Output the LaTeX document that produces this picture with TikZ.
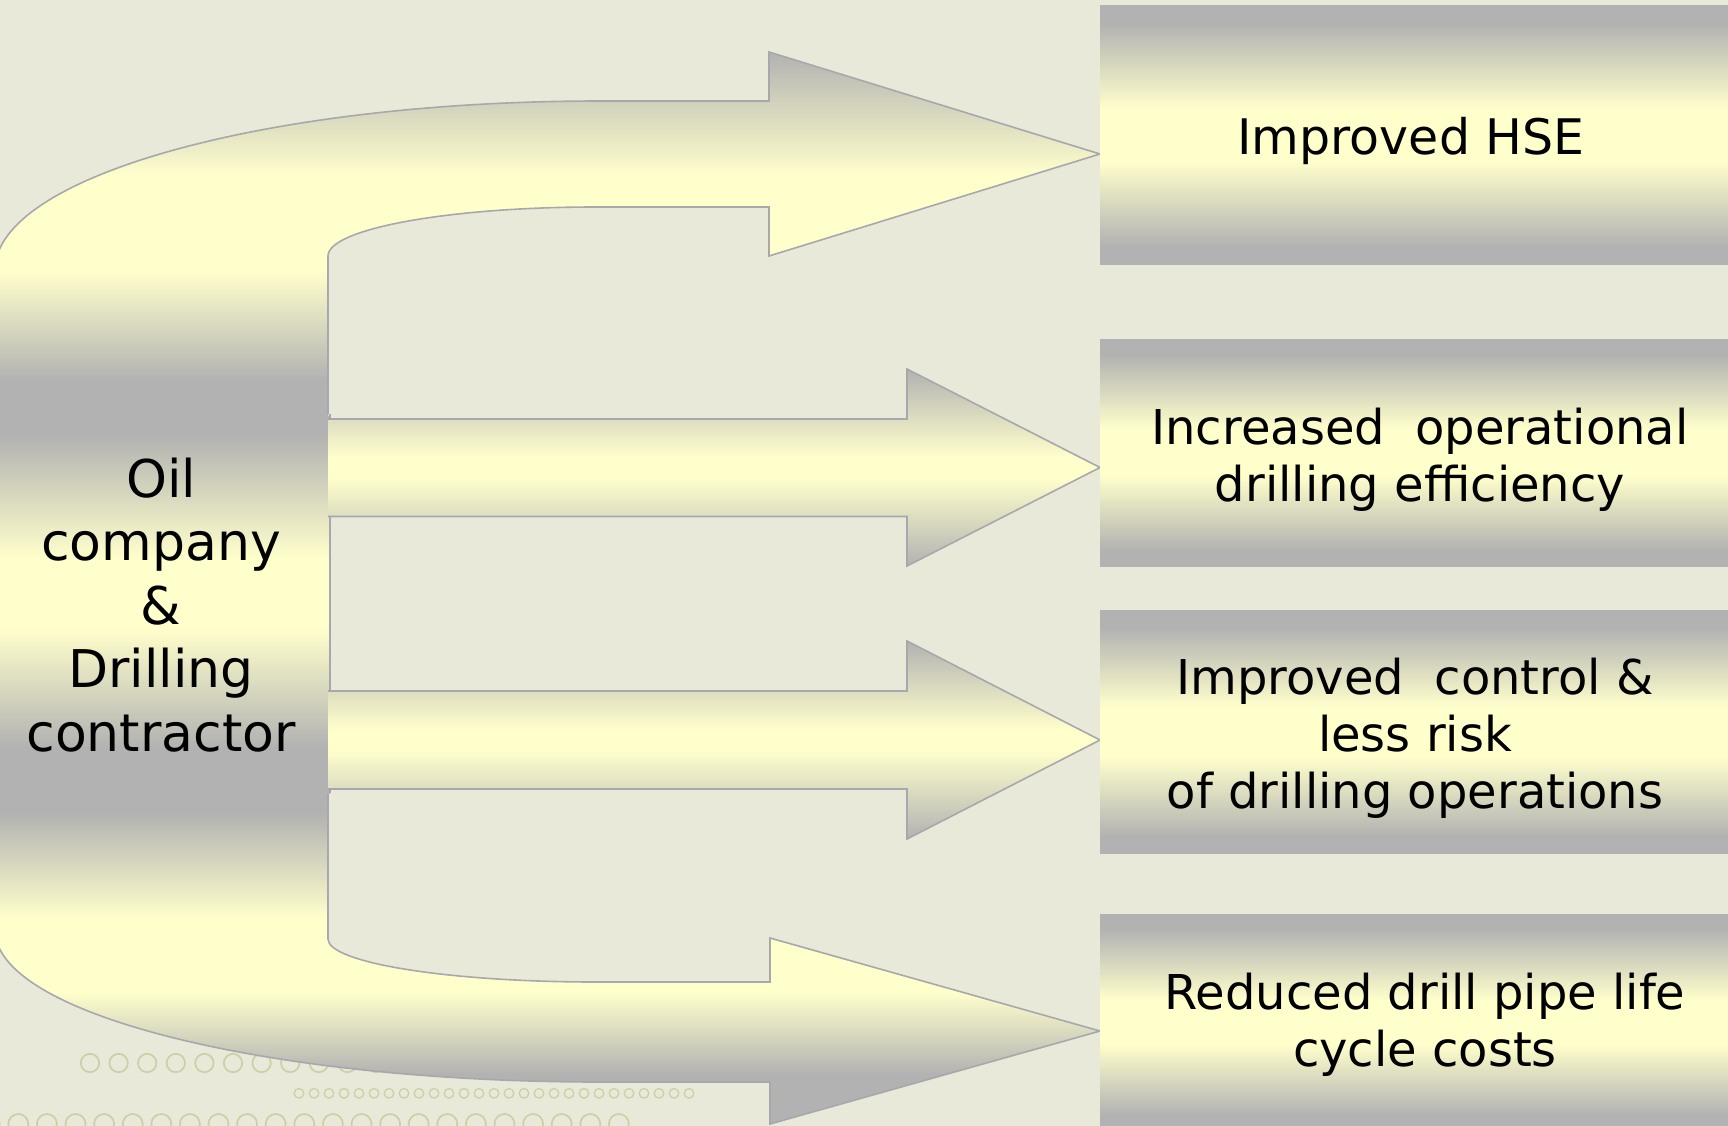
\documentclass[tikz,border=0pt]{standalone}
\usepackage{fontspec}
\setmainfont{DejaVu Sans}
\definecolor{bgc}{RGB}{232,233,216}
\definecolor{grayc}{RGB}{178,178,178}
\definecolor{yelc}{RGB}{255,255,204}
\definecolor{edgec}{RGB}{168,168,172}
\definecolor{dotc}{RGB}{204,208,166}
\pgfdeclareverticalshading{boxband}{100bp}{color(0bp)=(grayc); color(28.5bp)=(grayc); color(45bp)=(yelc); color(55bp)=(yelc); color(71.5bp)=(grayc); color(100bp)=(grayc)}
\pgfdeclareverticalshading{arrband}{100bp}{color(0bp)=(grayc); color(25bp)=(grayc); color(47.5bp)=(yelc); color(52.5bp)=(yelc); color(75bp)=(grayc); color(100bp)=(grayc)}
\pgfdeclareverticalshading{topband}{100bp}{color(0bp)=(grayc); color(30bp)=(grayc); color(45bp)=(yelc); color(58bp)=(yelc); color(75bp)=(grayc); color(100bp)=(grayc)}
\pgfdeclareverticalshading{midband}{100bp}{color(0bp)=(grayc); color(31bp)=(grayc); color(47bp)=(yelc); color(56bp)=(yelc); color(72.5bp)=(grayc); color(100bp)=(grayc)}
\pgfdeclareverticalshading{botband}{100bp}{color(0bp)=(grayc); color(32.5bp)=(grayc); color(45bp)=(yelc); color(56bp)=(yelc); color(72bp)=(grayc); color(100bp)=(grayc)}
\begin{document}
\begin{tikzpicture}[x=1pt,y=-1pt,
  edge/.style={draw=edgec,line width=1.6pt},
  boxnode/.style={rectangle,inner sep=0pt,shade,shading=boxband,minimum width=650pt},
  rtext/.style={anchor=base,align=center,font=\fontsize{48}{57}\selectfont,inner sep=0pt},
  ltext/.style={anchor=base,align=center,font=\fontsize{52}{63.5}\selectfont,inner sep=0pt},
  dotring/.style={draw=dotc,line width=1.7pt}]
\useasboundingbox (0,0) rectangle (1728,1126);
\fill[bgc] (0,0) rectangle (1728,1126);
\clip (0,0) rectangle (1728,1126);
% decorative rings
\foreach \i in {0,...,13} \draw[dotring] (90+28.6*\i,1063) circle[radius=9.2];
\foreach \i in {0,...,26} \draw[dotring,line width=1.3pt] (299+15*\i,1093.3) circle[radius=4.8];
\foreach \i in {0,...,22} \draw[dotring] (-10.3+28.6*\i,1124) circle[radius=10];
% bottom bent arrow
\shade[shading=botband] (-5,793) -- (-5,930) arc[start angle=180,end angle=90,x radius=605,y radius=152] -- (770,1082) -- (770,1124) -- (1100,1031) -- (770,938) -- (770,982) -- (596,982) arc[start angle=90,end angle=180,x radius=268,y radius=43] -- (328,793) -- cycle;
\draw[edge] (328,792) -- (328,939) arc[start angle=180,end angle=90,x radius=268,y radius=43] -- (770,982) -- (770,938) -- (1100,1031) -- (770,1124) -- (770,1082) -- (600,1082) arc[start angle=90,end angle=180,x radius=605,y radius=152] -- (-5,900);
% top bent arrow
\shade[shading=topband] (-5,417) -- (-5,270) arc[start angle=180,end angle=270,x radius=605,y radius=169] -- (769,101) -- (769,52) -- (1100,154) -- (769,256) -- (769,207) -- (596,207) arc[start angle=270,end angle=180,x radius=268,y radius=49] -- (328,417) -- cycle;
\draw[edge] (-5,330) -- (-5,270) arc[start angle=180,end angle=270,x radius=605,y radius=169] -- (769,101) -- (769,52) -- (1100,154) -- (769,256) -- (769,207) -- (596,207) arc[start angle=270,end angle=180,x radius=268,y radius=49] -- (328,414);
% middle block
\shade[shading=midband] (-5,416) rectangle (330,793);
\draw[edge] (330,414) -- (330,793);
% straight arrows
\shade[shading=arrband] (328,419) -- (907,419) -- (907,369) -- (1100,467.5) -- (907,566) -- (907,516.5) -- (328,516.5) -- cycle;
\draw[edge] (328,419) -- (907,419) -- (907,369) -- (1100,467.5) -- (907,566) -- (907,516.5) -- (328,516.5);
\shade[shading=arrband] (328,691) -- (907,691) -- (907,641) -- (1100,740) -- (907,839) -- (907,789) -- (328,789) -- cycle;
\draw[edge] (328,691) -- (907,691) -- (907,641) -- (1100,740) -- (907,839) -- (907,789) -- (328,789);
% result boxes
\node[boxnode,minimum height=258.3pt] (b1) at (1425,134.85) {};
\node[boxnode,minimum height=227pt] (b2) at (1425,452.5) {};
\node[boxnode,minimum height=243pt] (b3) at (1425,732) {};
\node[boxnode,minimum height=216pt] (b4) at (1425,1022) {};
% texts (base anchor = baseline of last line)
\node[rtext,font=\fontsize{49}{57}\selectfont] (t1) at (1411,155) {Improved HSE};
\node[rtext] (t2) at (1420,501) {Increased\ \ operational\\drilling efficiency};
\node[rtext] (t3) at (1415,808) {Improved\ \ control \&\\less risk\\of drilling operations};
\node[rtext] (t4) at (1425,1066.5) {Reduced drill pipe life\\cycle costs};
\node[ltext] (src) at (161,751) {Oil\\company\\\&\\Drilling\\contractor};
\end{tikzpicture}
\end{document}
